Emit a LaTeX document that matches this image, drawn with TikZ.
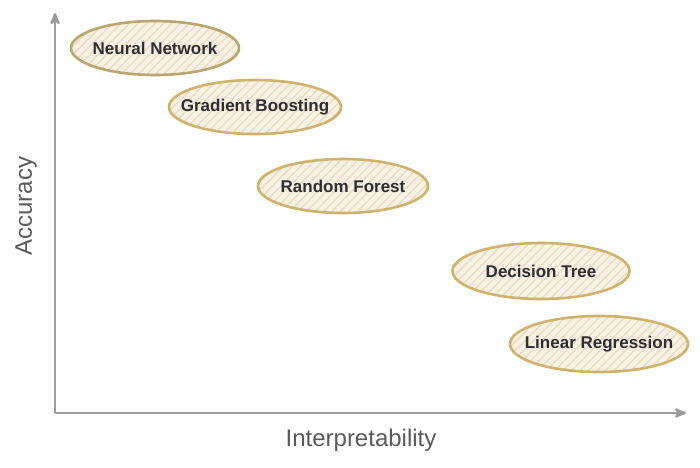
\documentclass[tikz,border=0pt]{standalone}
\usepackage{fontspec}
\setmainfont{Liberation Sans}
\usetikzlibrary{
  arrows,
  shapes.geometric,
  patterns.meta,
  positioning
}
\definecolor{axisgray}{HTML}{9C9A9E}
\definecolor{labelgray}{HTML}{5A5A5A}
\definecolor{textdark}{HTML}{2E2E2E}
\definecolor{blobline}{HTML}{CFB26C}
\definecolor{blobfill}{HTML}{F8F2E6}
\definecolor{hatch}{HTML}{EBDDC4}

\begin{document}
\begin{tikzpicture}[x=1pt,y=-1pt,
      model/.style={
         ellipse,
         inner xsep=-20pt,
         inner ysep=0pt,
         minimum width=#1,
         minimum height=54pt,
         line width=2.6pt,
         draw=blobline,
         preaction={fill=blobfill},
         pattern={Lines[angle=45,distance=6pt,line width=1.6pt]},
         pattern color=hatch,
         text=textdark,
         font=\bfseries\fontsize{17}{20}\selectfont
      },
      model/.default=172pt,
      axis/.style={->,line width=2.6pt,draw=axisgray},
      axis label/.style={
         text=labelgray,
         font=\fontsize{24}{28}\selectfont
      },
      >=stealth'
    ]
    \useasboundingbox (0,0) rectangle (700,467);
    % axes
    \coordinate (origin) at (55,413);
    \coordinate (ytop) at (55,13);
    \coordinate (xend) at (686,413);
    \draw[axis] (origin) -- (ytop);
    \draw[axis] (origin) -- (xend);
    \node (acc) [axis label, rotate=90] at (26,206) {Accuracy};
    \node (interp) [axis label] at (361,440) {Interpretability};
    % models
    \node (nn) [model=168pt, draw=blobline!75!gray] at (155,48) {Neural Network};
    \node (gb) [model] at (255,107) {Gradient Boosting};
    \node (rf) [model=170pt] at (343,186) {Random Forest};
    \node (dt) [model=177pt, minimum height=56pt] at (541,271) {Decision Tree};
    \node (lr) [model=178pt, minimum height=56pt] at (599,344) {Linear Regression};
\end{tikzpicture}
\end{document}
